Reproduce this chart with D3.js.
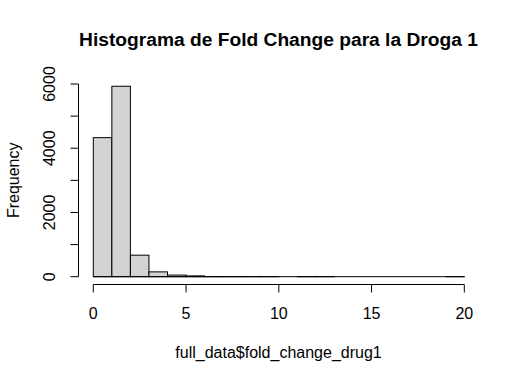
<!DOCTYPE html>
<html><head><meta charset="utf-8">
<script src="https://cdn.jsdelivr.net/npm/d3@7"></script>
<style>body{margin:0;background:#fff}svg{display:block}text{font-family:"Liberation Sans",Arial,sans-serif}</style>
</head><body>
<script>
const binStarts = [0,1,2,3,4,5,6,7,8,9,10,11,12,13,14,15,16,17,18,19];
const counts = [4330,5930,670,150,50,25,6,3,2,1,0,3,1,0,0,0,0,0,0,1];
const xTicks = [0,5,10,15,20];
const yTicks = [0,2000,4000,6000];
const yMinorTicks = [0,1000,2000,3000,4000,5000,6000];
const title = "Histograma de Fold Change para la Droga 1";
const xLabel = "full_data$fold_change_drug1";
const yLabel = "Frequency";

const W=520,H=382;
const svg=d3.select("body").append("svg").attr("width",W).attr("height",H);
const x=d3.scaleLinear().domain([0,20]).range([93.3,464.3]);
const y=d3.scaleLinear().domain([0,6000]).range([276.7,84]);

svg.append("g").selectAll("rect").data(binStarts.filter((d,i)=>counts[i]>0)).join("rect")
  .attr("x",d=>x(d)).attr("width",d=>x(d+1)-x(d))
  .attr("y",d=>y(counts[binStarts.indexOf(d)])).attr("height",d=>y(0)-y(counts[binStarts.indexOf(d)]))
  .attr("fill","#d3d3d3").attr("stroke","#000").attr("stroke-width",1);
svg.append("line").attr("x1",x(0)).attr("x2",x(20)).attr("y1",y(0)).attr("y2",y(0))
  .attr("stroke","#000").attr("stroke-width",1);

// x axis
const xg=svg.append("g").attr("transform","translate(0,284.5)");
xg.append("line").attr("x1",x(0)).attr("x2",x(20)).attr("stroke","#000");
xg.selectAll("line.t").data(xTicks).join("line").attr("class","t")
  .attr("x1",d=>x(d)).attr("x2",d=>x(d)).attr("y1",0).attr("y2",8).attr("stroke","#000");
xg.selectAll("text").data(xTicks).join("text")
  .attr("x",d=>x(d)).attr("y",34).attr("text-anchor","middle").attr("font-size",16).text(d=>d);

// y axis
const yg=svg.append("g").attr("transform","translate(78.5,0)");
yg.append("line").attr("y1",y(0)).attr("y2",y(6000)).attr("stroke","#000");
yg.selectAll("line.t").data(yMinorTicks).join("line").attr("class","t")
  .attr("y1",d=>y(d)).attr("y2",d=>y(d)).attr("x1",0).attr("x2",-8).attr("stroke","#000");
yg.selectAll("text").data(yTicks).join("text")
  .attr("transform",d=>`translate(-23.5,${y(d)}) rotate(-90)`)
  .attr("text-anchor","middle").attr("font-size",16).text(d=>d);

svg.append("text").attr("x",278.5).attr("y",46).attr("text-anchor","middle")
  .attr("font-size",19.2).attr("font-weight","bold").text(title);
svg.append("text").attr("x",278.5).attr("y",358).attr("text-anchor","middle")
  .attr("font-size",16).text(xLabel);
svg.append("text").attr("transform",`translate(18.5,180.3) rotate(-90)`).attr("text-anchor","middle")
  .attr("font-size",16).text(yLabel);
</script>
</body></html>
